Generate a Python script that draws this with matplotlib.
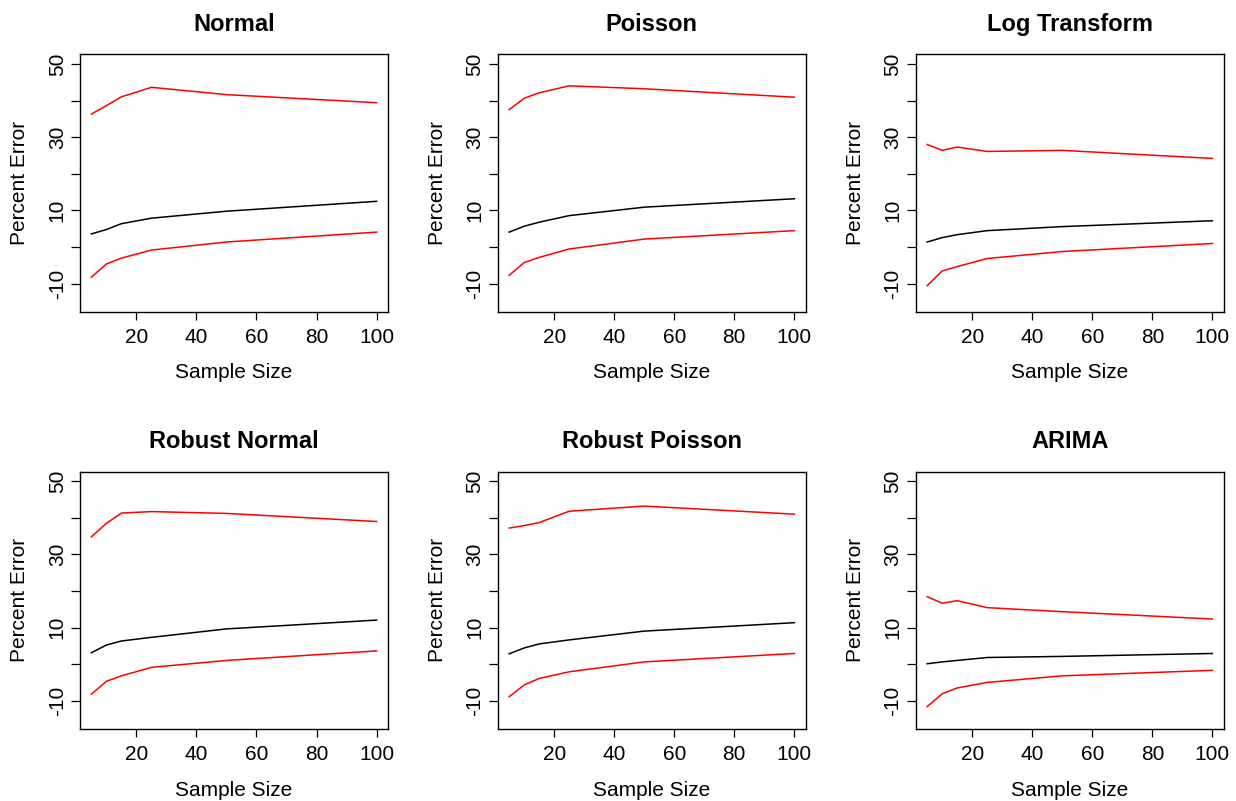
# percent error vs sample size, six methods (R-style base plot look)

from matplotlib import pyplot as plt
import numpy as np

plt.rcParams['font.family'] = ['Liberation Sans', 'DejaVu Sans']

sample_size = [5, 10, 15, 25, 50, 100]

titles = ['Normal', 'Poisson', 'Log Transform',
          'Robust Normal', 'Robust Poisson', 'ARIMA']

# median percent error
mid = [
    [3.6, 4.8, 6.4, 7.9, 9.8, 12.5],
    [4.1, 5.7, 6.8, 8.6, 10.9, 13.2],
    [1.4, 2.6, 3.4, 4.5, 5.6, 7.2],
    [3.2, 5.3, 6.4, 7.4, 9.7, 12.1],
    [2.9, 4.5, 5.6, 6.7, 9.1, 11.4],
    [0.2, 0.7, 1.1, 1.9, 2.2, 3.0],
]

# upper band
upper = [
    [36.3, 38.6, 41.0, 43.6, 41.6, 39.4],
    [37.5, 40.6, 42.1, 44.0, 43.2, 40.9],
    [28.0, 26.4, 27.3, 26.1, 26.4, 24.2],
    [34.8, 38.5, 41.3, 41.7, 41.2, 39.0],
    [37.2, 37.9, 38.7, 41.8, 43.2, 41.0],
    [18.5, 16.7, 17.4, 15.5, 14.4, 12.4],
]

# lower band
lower = [
    [-8.2, -4.6, -3.0, -0.8, 1.4, 4.1],
    [-7.7, -4.2, -2.8, -0.5, 2.2, 4.5],
    [-10.5, -6.5, -5.3, -3.1, -1.2, 1.0],
    [-8.1, -4.6, -3.1, -0.8, 1.1, 3.7],
    [-8.8, -5.6, -3.8, -2.0, 0.7, 3.0],
    [-11.5, -8.0, -6.4, -4.9, -3.1, -1.6],
]

y_ticks = [-10, 0, 10, 20, 30, 40, 50]
y_labels = ['-10', '', '10', '', '30', '', '50']
x_ticks = [20, 40, 60, 80, 100]

fig = plt.figure(figsize=(12.36, 8.01), dpi=100)

lefts = [0.0647, 0.4027, 0.7409]
bottoms = [0.6109, 0.0899]
w, h = 0.2492, 0.3213

for i in range(6):
    ax = fig.add_axes([lefts[i % 3], bottoms[i // 3], w, h])
    ax.plot(sample_size, upper[i], color='#FF0000', lw=1.1)
    ax.plot(sample_size, mid[i], color='black', lw=1.1)
    ax.plot(sample_size, lower[i], color='#FF0000', lw=1.1)

    # R style 4% padding
    ax.set_xlim(5 - 0.04 * 95, 100 + 0.04 * 95)
    ax.set_ylim(-15 - 0.04 * 65, 50 + 0.04 * 65)

    ax.set_xticks(x_ticks)
    ax.set_yticks(y_ticks)
    ax.set_yticklabels(y_labels, rotation=90, va='center')
    ax.tick_params(axis='x', length=5.5, width=0.9, pad=6, labelsize=15)
    ax.tick_params(axis='y', length=6.5, width=0.9, pad=3, labelsize=15)
    for s in ax.spines.values():
        s.set_linewidth(1.0)

    ax.set_title(titles[i], fontsize=17, fontweight='bold', pad=17)
    ax.set_xlabel('Sample Size', fontsize=15)
    ax.set_ylabel('Percent Error', fontsize=15)
    ax.xaxis.set_label_coords(0.5, -0.238)
    ax.xaxis.label.set_va('center')
    ax.yaxis.set_label_coords(-0.195, 0.5)
    ax.yaxis.label.set_va('center')

fig.savefig('out.png', dpi=100)
